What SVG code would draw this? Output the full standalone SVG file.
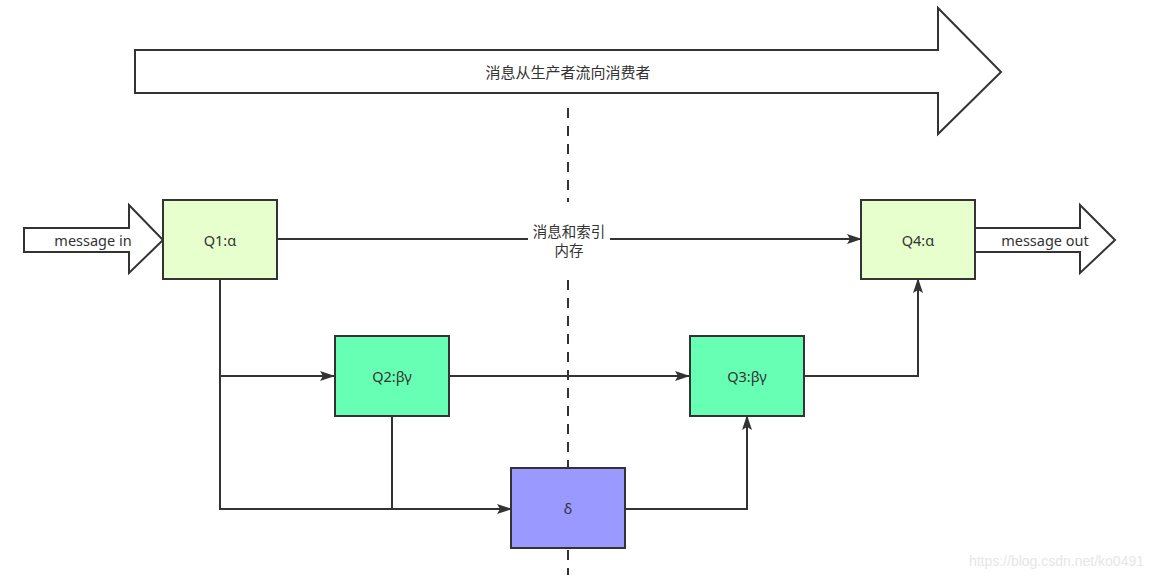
<svg xmlns="http://www.w3.org/2000/svg" width="1151" height="582" viewBox="0 0 1151 582">
<style>
.txt{font-family:"Noto Sans","Noto Sans CJK SC",sans-serif;font-size:14.5px;fill:#333;text-anchor:middle;dominant-baseline:central}
.big{fill:#fff;stroke:#333;stroke-width:2}
.node{stroke:#333;stroke-width:2}
.edge{fill:none;stroke:#333;stroke-width:2}
.light{fill:#e6ffcc}
.mint{fill:#66ffb3}
.blue{fill:#9999ff}
</style>
<defs>
<marker id="ah" markerUnits="userSpaceOnUse" markerWidth="15" markerHeight="12" viewBox="0 0 15 12" refX="14" refY="6" orient="auto">
<path d="M0,1 L15,6 L0,11 L3,6 Z" fill="#333"/>
</marker>
</defs>
<rect width="1151" height="582" fill="#fff"/>
<g id="flow-arrow">
<path class="big" d="M135,50 L938,50 L938,8 L1001,72 L938,134 L938,93 L135,93 Z"/>
<text class="txt" x="568" y="72" style="font-size:15px">消息从生产者流向消费者</text>
</g>
<g id="divider">
<line x1="568" y1="108" x2="568" y2="202" stroke="#333" stroke-width="2" stroke-dasharray="10,8"/>
<line x1="568" y1="280" x2="568" y2="575" stroke="#333" stroke-width="2" stroke-dasharray="10,8"/>
</g>
<g id="connectors">
<path class="edge" d="M277,239 L861,239" marker-end="url(#ah)"/>
<path class="edge" d="M220,279 L220,376 L334,376" marker-end="url(#ah)"/>
<path class="edge" d="M220,376 L220,509 L511,509" marker-end="url(#ah)"/>
<path class="edge" d="M392,416 L392,509"/>
<path class="edge" d="M449,376 L689,376" marker-end="url(#ah)"/>
<path class="edge" d="M625,509 L747,509 L747,416" marker-end="url(#ah)"/>
<path class="edge" d="M804,376 L918,376 L918,279" marker-end="url(#ah)"/>
<rect x="528" y="220" width="82" height="40" fill="#fff"/>
<text class="txt" x="569" y="231">消息和索引</text>
<text class="txt" x="569" y="250">内存</text>
</g>
<g id="message-in">
<path class="big" d="M24,228 L129,228 L129,205 L163,240 L129,273 L129,252 L24,252 Z"/>
<text class="txt" x="93" y="240">message in</text>
</g>
<g id="message-out">
<path class="big" d="M975,228 L1080,228 L1080,205 L1115,240 L1080,273 L1080,252 L975,252 Z"/>
<text class="txt" x="1045" y="240">message out</text>
</g>
<g id="q1">
<rect class="node light" x="163" y="200" width="114" height="79"/>
<text class="txt" x="220" y="240">Q1:α</text>
</g>
<g id="q4">
<rect class="node light" x="861" y="200" width="114" height="79"/>
<text class="txt" x="918" y="240">Q4:α</text>
</g>
<g id="q2">
<rect class="node mint" x="335" y="336" width="114" height="80"/>
<text class="txt" x="392" y="376">Q2:βγ</text>
</g>
<g id="q3">
<rect class="node mint" x="690" y="336" width="114" height="80"/>
<text class="txt" x="747" y="376">Q3:βγ</text>
</g>
<g id="delta">
<rect class="node blue" x="511" y="468" width="114" height="80"/>
<text class="txt" x="568" y="508">δ</text>
</g>
<text x="1144" y="566" font-family="Liberation Sans, sans-serif" font-size="14" fill="#e6e6e6" text-anchor="end">https://blog.csdn.net/ko0491</text>
</svg>
